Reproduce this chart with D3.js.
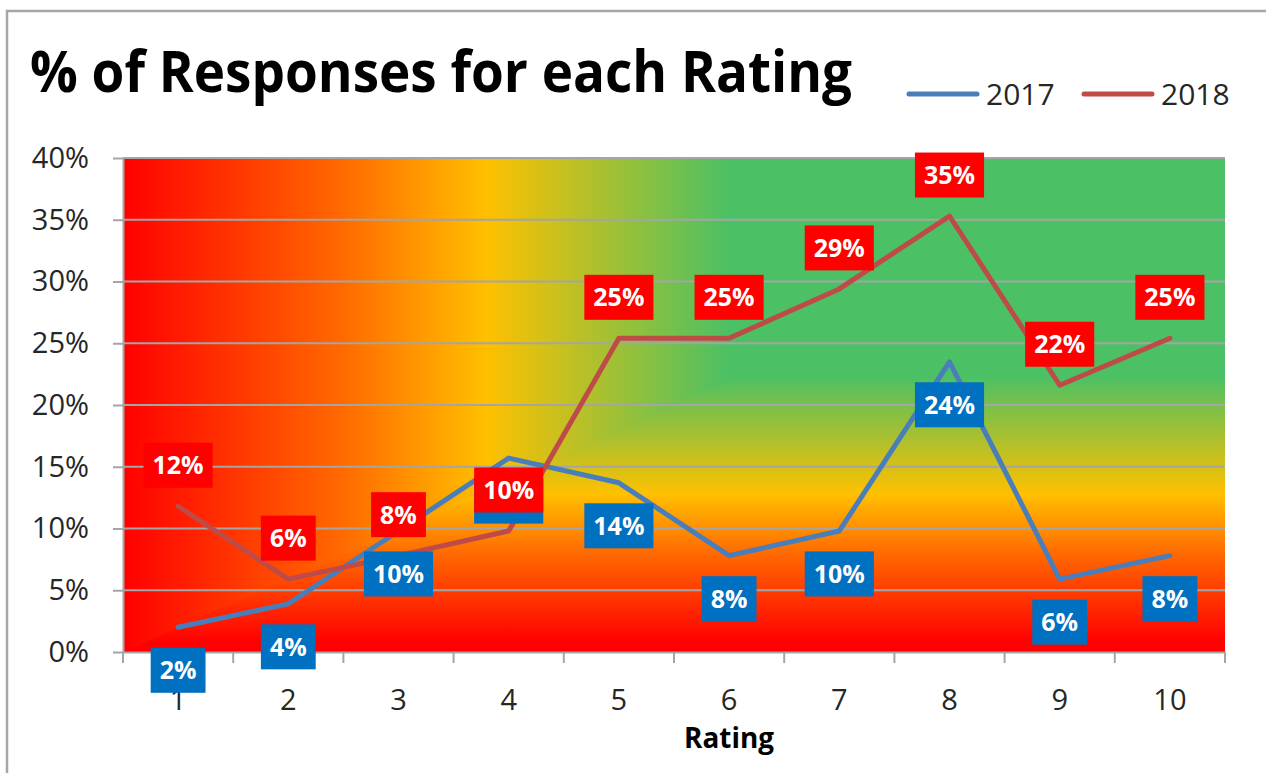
<!DOCTYPE html>
<html>
<head>
<meta charset="utf-8">
<script src="https://cdn.jsdelivr.net/npm/d3@7"></script>
<style>
  html, body { margin: 0; padding: 0; background: #fff; }
  svg { display: block; }
</style>
</head>
<body>
<script>
// ---- data ----
const categories = ["1", "2", "3", "4", "5", "6", "7", "8", "9", "10"];
const values2017 = [2.0, 3.9, 9.8, 15.7, 13.7, 7.8, 9.8, 23.5, 5.9, 7.8];
const values2018 = [11.8, 5.9, 7.8, 9.8, 25.4, 25.4, 29.4, 35.3, 21.6, 25.4];
const yTicks = [0, 5, 10, 15, 20, 25, 30, 35, 40];
const seriesNames = ["2017", "2018"];
const titleText = "% of Responses for each Rating";
const xTitle = "Rating";

const W = 1266, H = 773;
const svg = d3.select("body").append("svg").attr("width", W).attr("height", H);

const plot = { left: 123, right: 1225, top: 158, bottom: 652 };
const x = d3.scaleBand().domain(categories).range([plot.left, plot.right]);
const y = d3.scaleLinear().domain([0, 40]).range([plot.bottom, plot.top]);
const cx = c => x(c) + x.bandwidth() / 2;

// frame
svg.append("path")
  .attr("d", `M7,${H} L7,11 L${W},11`)
  .attr("fill", "none").attr("stroke", "#a6a6a6").attr("stroke-width", 2.5);

// ---- gradients (rectangular gradient from top-right corner) ----
const defs = svg.append("defs");
const green = "#4bc065", yellow = "#ffc000", orange = "#ff6a00", red = "#ff0000";
const hg = defs.append("linearGradient").attr("id", "hg")
  .attr("gradientUnits", "userSpaceOnUse")
  .attr("x1", plot.left).attr("y1", 0).attr("x2", plot.right).attr("y2", 0);
[[0, red], [0.2, orange], [0.33, yellow], [0.55, green], [1, green]].forEach(s =>
  hg.append("stop").attr("offset", s[0]).attr("stop-color", s[1]));
const vg = defs.append("linearGradient").attr("id", "vg")
  .attr("gradientUnits", "userSpaceOnUse")
  .attr("x1", 0).attr("y1", plot.top).attr("x2", 0).attr("y2", plot.bottom);
[[0, green], [0.44, green], [0.68, yellow], [0.8, orange], [0.98, red], [1, red]].forEach(s =>
  vg.append("stop").attr("offset", s[0]).attr("stop-color", s[1]));

svg.append("rect")
  .attr("x", plot.left).attr("y", plot.top)
  .attr("width", plot.right - plot.left).attr("height", plot.bottom - plot.top)
  .attr("fill", "url(#vg)");
svg.append("path")
  .attr("d", `M${plot.left},${plot.top} L${plot.right},${plot.top} L${plot.left},${plot.bottom} Z`)
  .attr("fill", "url(#hg)");

// gridlines
svg.append("g").selectAll("line").data(yTicks.filter(d => d > 0)).join("line")
  .attr("x1", plot.left).attr("x2", plot.right)
  .attr("y1", d => y(d)).attr("y2", d => y(d))
  .attr("stroke", "#a5a5a5").attr("stroke-width", 2);

// y axis
const yAxis = svg.append("g").attr("transform", `translate(${plot.left},0)`)
  .call(d3.axisLeft(y).tickValues(yTicks).tickFormat(d => d + "%")
    .tickSizeInner(10).tickSizeOuter(0).tickPadding(24));
yAxis.select(".domain").attr("stroke", "#a5a5a5").attr("stroke-width", 2);
yAxis.selectAll(".tick line").attr("stroke", "#a5a5a5").attr("stroke-width", 2);
yAxis.selectAll("text").attr("font-family", "'Open Sans', sans-serif")
  .attr("font-size", 29).attr("fill", "#262626");

// x axis
const xAxis = svg.append("g").attr("transform", `translate(0,${plot.bottom})`)
  .call(d3.axisBottom(x).tickSizeInner(0).tickSizeOuter(0).tickPadding(37));
xAxis.select(".domain").attr("stroke", "#a5a5a5").attr("stroke-width", 2);
xAxis.selectAll("text").attr("font-family", "'Open Sans', sans-serif")
  .attr("font-size", 29).attr("fill", "#262626");
const edges = categories.map(c => x(c)).concat([x(categories[categories.length - 1]) + x.bandwidth()]);
svg.append("g").selectAll("line").data(edges).join("line")
  .attr("x1", d => d).attr("x2", d => d)
  .attr("y1", plot.bottom).attr("y2", plot.bottom + 11)
  .attr("stroke", "#a5a5a5").attr("stroke-width", 2);

svg.append("text").attr("x", cx("6")).attr("y", 748)
  .attr("text-anchor", "middle")
  .attr("font-family", "'Open Sans', sans-serif").attr("font-weight", "bold")
  .attr("font-size", 28).attr("fill", "#000")
  .attr("textLength", 90).attr("lengthAdjust", "spacingAndGlyphs")
  .text(xTitle);

// title
svg.append("text").attr("x", 30).attr("y", 92)
  .attr("font-family", "'Open Sans', sans-serif").attr("font-weight", "bold")
  .attr("font-size", 58).attr("fill", "#000")
  .attr("textLength", 822).attr("lengthAdjust", "spacingAndGlyphs")
  .text(titleText);

// legend
const legendItems = [
  { name: seriesNames[0], color: "#4a7ebb", x1: 909, tx: 986 },
  { name: seriesNames[1], color: "#be4b48", x1: 1084, tx: 1161 }
];
const lg = svg.append("g");
legendItems.forEach(d => {
  lg.append("line").attr("x1", d.x1).attr("x2", d.x1 + 68).attr("y1", 94).attr("y2", 94)
    .attr("stroke", d.color).attr("stroke-width", 5).attr("stroke-linecap", "round");
  lg.append("text").attr("x", d.tx).attr("y", 105)
    .attr("font-family", "'Open Sans', sans-serif").attr("font-size", 30)
    .attr("fill", "#262626").text(d.name);
});

// lines
const line = d3.line().x((d, i) => cx(categories[i])).y(d => y(d));
const series = [
  { vals: values2017, color: "#4a7ebb", box: "#0070c0", above: false },
  { vals: values2018, color: "#be4b48", box: "#ff0000", above: true }
];
series.forEach(s => {
  svg.append("path").datum(s.vals).attr("d", line)
    .attr("fill", "none").attr("stroke", s.color).attr("stroke-width", 5)
    .attr("stroke-linejoin", "round").attr("stroke-linecap", "round");
});

// labels
series.forEach(s => {
  const g = svg.append("g");
  s.vals.forEach((v, i) => {
    const label = Math.round(v) + "%";
    const px = cx(categories[i]);
    const py = y(v);
    const t = g.append("text")
      .attr("font-family", "'Open Sans', sans-serif").attr("font-weight", "bold")
      .attr("font-size", 25).attr("fill", "#fff").attr("text-anchor", "middle")
      .text(label);
    const bw = t.node().getComputedTextLength() + 18;
    const bh = 45;
    const cy = s.above ? py - 41 : py + 43;
    g.insert("rect", () => t.node())
      .attr("x", px - bw / 2).attr("y", cy - bh / 2)
      .attr("width", bw).attr("height", bh).attr("fill", s.box);
    t.attr("x", px).attr("y", cy + 9);
  });
});
</script>
</body>
</html>
